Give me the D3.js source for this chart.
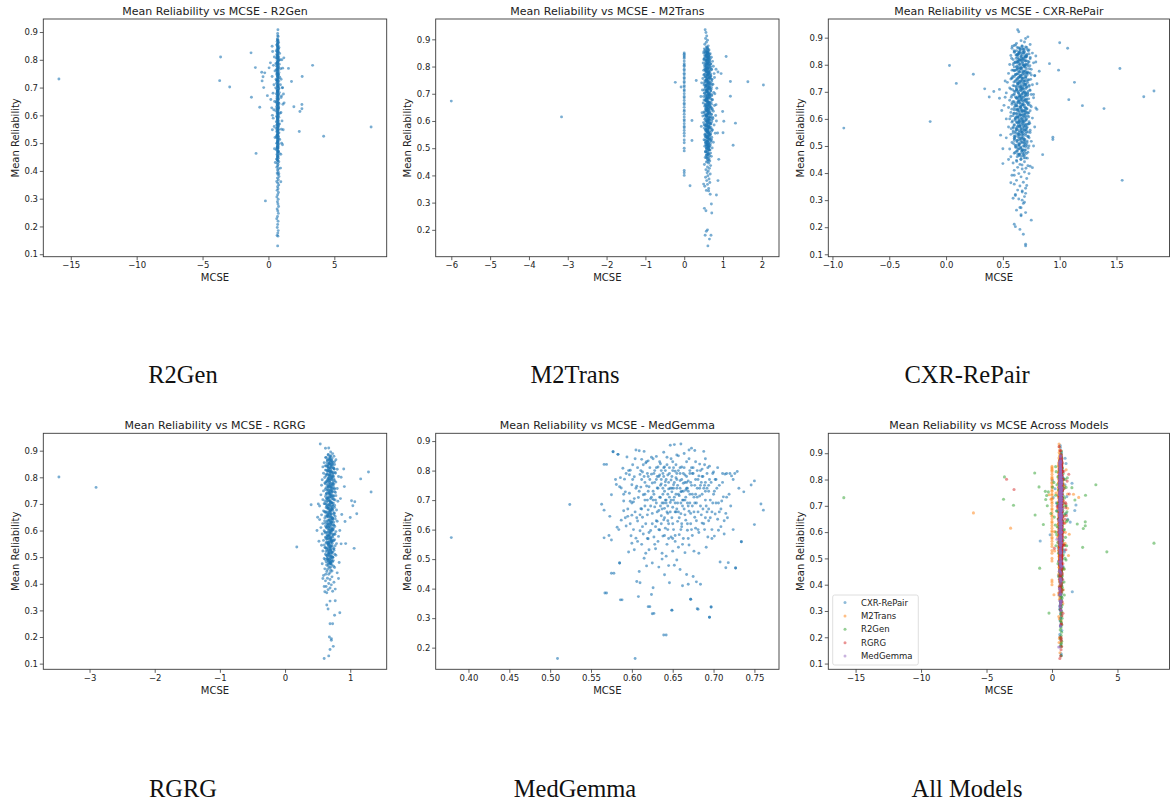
<!DOCTYPE html>
<html>
<head>
<meta charset="utf-8">
<script src="https://cdn.jsdelivr.net/npm/d3@7"></script>
<style>
  body { margin: 0; background: #fff; }
  svg { display: block; }
</style>
</head>
<body>
<svg id="fig" width="1170" height="802"></svg>
<script>
// ---------- data: [MCSE, mean reliability] per report ----------

const r2gen = [
  // main column
  [0.72,0.908],[0.7,0.895],[0.74,0.884],[0.68,0.876],[0.73,0.871],[0.66,0.866],[0.77,0.862],[0.71,0.858],[0.63,0.853],[0.75,0.851],
  [0.69,0.847],[0.8,0.844],[0.67,0.84],[0.72,0.836],[0.59,0.833],[0.76,0.83],[0.7,0.826],[0.85,0.823],[0.64,0.82],[0.73,0.817],
  [0.68,0.813],[0.78,0.81],[0.61,0.806],[0.71,0.803],[0.88,0.8],[0.66,0.797],[0.75,0.794],[0.69,0.79],[0.57,0.787],[0.82,0.784],
  [0.72,0.781],[0.64,0.777],[0.77,0.774],[0.7,0.771],[0.93,0.768],[0.6,0.764],[0.74,0.761],[0.67,0.757],[0.8,0.754],[0.71,0.75],
  [0.63,0.747],[0.76,0.744],[0.69,0.74],[0.86,0.737],[0.73,0.733],[0.58,0.73],[0.66,0.727],[0.78,0.723],[0.7,0.72],[0.62,0.716],
  [0.75,0.713],[0.91,0.71],[0.68,0.706],[0.72,0.703],[0.55,0.699],[0.79,0.696],[0.65,0.692],[0.74,0.689],[0.7,0.685],[0.83,0.682],
  [0.61,0.678],[0.76,0.675],[0.68,0.671],[0.72,0.667],[0.96,0.664],[0.64,0.66],[0.77,0.657],[0.7,0.653],[0.59,0.649],[0.74,0.646],
  [0.81,0.642],[0.67,0.638],[0.71,0.635],[0.62,0.631],[0.78,0.627],[0.69,0.623],[0.75,0.62],[0.56,0.616],[0.72,0.612],[0.88,0.608],
  [0.66,0.605],[0.73,0.601],[0.63,0.597],[0.79,0.593],[0.7,0.589],[0.68,0.585],[0.76,0.581],[0.6,0.577],[0.71,0.573],[0.84,0.569],
  [0.65,0.565],[0.74,0.561],[0.69,0.557],[0.58,0.553],[0.77,0.549],[0.72,0.545],[0.64,0.541],[0.8,0.537],[0.7,0.533],[0.67,0.529],
  [0.75,0.525],[0.61,0.521],[0.73,0.517],[0.86,0.513],[0.68,0.509],[0.71,0.505],[0.63,0.5],[0.78,0.496],[0.69,0.492],[0.74,0.488],
  [0.66,0.484],[0.72,0.48],[0.6,0.476],[0.76,0.471],[0.7,0.467],[0.82,0.463],[0.65,0.459],[0.73,0.455],[0.68,0.45],[0.75,0.446],
  [0.62,0.442],[0.71,0.437],[0.79,0.433],[0.67,0.428],[0.73,0.423],[0.7,0.418],[0.64,0.413],[0.77,0.408],[0.69,0.403],[0.74,0.397],
  [0.66,0.392],[0.72,0.387],[0.8,0.38],[0.68,0.374],[0.75,0.368],[0.63,0.362],[0.71,0.356],[0.78,0.349],[0.69,0.343],[0.73,0.336],
  [0.66,0.33],[0.76,0.322],[0.7,0.314],[0.64,0.306],[0.74,0.298],[0.68,0.289],[0.72,0.281],[0.77,0.272],[0.66,0.263],[0.71,0.256],
  [0.75,0.247],[0.69,0.236],[0.63,0.228],[0.73,0.219],[0.7,0.207],[0.67,0.196],[0.74,0.185],[0.71,0.176],[0.66,0.168],[0.72,0.165],
  [0.7,0.13],
  [0.69,0.859],[0.74,0.842],[0.66,0.829],[0.71,0.812],[0.77,0.798],[0.63,0.785],[0.73,0.776],[0.68,0.763],[0.75,0.748],[0.7,0.735],
  [0.65,0.724],[0.72,0.711],[0.79,0.697],[0.67,0.684],[0.74,0.671],[0.7,0.658],[0.62,0.645],[0.76,0.633],[0.69,0.619],[0.73,0.606],
  [0.66,0.594],[0.71,0.579],[0.78,0.566],[0.68,0.552],[0.72,0.539],[0.64,0.527],[0.75,0.513],[0.7,0.498],[0.67,0.486],[0.73,0.47],
  [0.69,0.452],[0.71,0.836],[0.68,0.818],[0.73,0.806],[0.7,0.791],[0.75,0.769],[0.66,0.752],[0.72,0.74],[0.69,0.728],[0.74,0.704],
  [0.71,0.69],[0.67,0.676],[0.73,0.662],[0.7,0.64],[0.76,0.626],[0.68,0.611],[0.72,0.596],[0.69,0.571],[0.74,0.558],[0.71,0.531],
  [0.66,0.519],[0.73,0.503],[0.7,0.481],[0.72,0.47],[0.68,0.44],
  [0.703,0.887],[0.682,0.872],[0.731,0.864],[0.664,0.855],[0.712,0.846],[0.746,0.839],[0.691,0.831],[0.723,0.822],[0.657,0.815],[0.704,0.807],
  [0.76,0.8],[0.679,0.792],[0.718,0.785],[0.645,0.778],[0.697,0.77],[0.738,0.763],[0.671,0.755],[0.713,0.748],[0.686,0.741],[0.752,0.733],
  [0.629,0.726],[0.702,0.719],[0.677,0.711],[0.729,0.704],[0.661,0.697],[0.708,0.689],[0.694,0.682],[0.741,0.675],[0.654,0.667],[0.719,0.66],
  [0.683,0.653],[0.765,0.645],[0.672,0.638],[0.706,0.631],[0.639,0.623],[0.724,0.616],[0.691,0.609],[0.751,0.601],[0.667,0.594],[0.715,0.587],
  [0.682,0.579],[0.736,0.572],[0.648,0.565],[0.701,0.557],[0.727,0.55],[0.673,0.543],[0.709,0.535],[0.658,0.528],[0.743,0.521],[0.689,0.514],
  [0.717,0.506],[0.664,0.499],[0.698,0.491],[0.731,0.483],[0.676,0.476],[0.709,0.468],[0.688,0.46],[0.722,0.452],[0.667,0.445],[0.703,0.437],
  [0.714,0.869],[0.696,0.849],[0.728,0.827],[0.685,0.806],[0.711,0.786],[0.673,0.766],[0.72,0.746],[0.693,0.726],[0.707,0.706],[0.681,0.686],
  [0.726,0.666],[0.699,0.646],[0.671,0.626],[0.715,0.606],[0.688,0.586],[0.703,0.566],[0.679,0.546],[0.711,0.526],[0.694,0.506],[0.683,0.486],
  // spread around the column
  [0.32,0.83],[0.45,0.81],[1.02,0.8],[0.38,0.78],[1.08,0.77],[0.5,0.76],[0.28,0.74],[0.96,0.73],[0.42,0.71],[1.05,0.7],
  [0.35,0.68],[0.99,0.67],[0.47,0.65],[1.1,0.64],[0.4,0.62],[0.95,0.61],[0.3,0.6],[1.03,0.58],[0.44,0.56],[0.98,0.55],
  [0.5,0.52],[1.0,0.5],[0.46,0.48],[0.94,0.46],[0.52,0.43],[0.92,0.41],
  [-0.48,0.724],[-0.41,0.739],[-0.28,0.753],[-0.51,0.755],[-0.36,0.7],[0.05,0.771],[-0.08,0.671],[0.18,0.657],[0.25,0.627],[0.36,0.59],
  [0.3,0.548],[1.17,0.807],[1.07,0.699],[1.14,0.677],[1.19,0.645],[1.12,0.548],[1.07,0.494],[0.94,0.361],[0.79,0.39],[0.15,0.789],
  [0.28,0.849],
  // far points
  [-15.9,0.731],[-3.63,0.81],[-3.7,0.725],[-2.94,0.702],[-1.32,0.825],[-0.99,0.772],[-1.29,0.665],[-0.66,0.629],[-0.94,0.463],[-0.23,0.292],
  [3.35,0.78],[2.56,0.74],[1.75,0.722],[1.52,0.769],[1.93,0.631],[2.54,0.639],[2.54,0.624],[2.39,0.614],[2.34,0.542],[4.19,0.525],
  [7.79,0.558]
];

const m2trans = [
  // reports with MCSE of zero
  [0,0.85],[0,0.845],[0,0.84],[0,0.835],[0,0.83],[0,0.82],[0,0.81],[0,0.805],[0,0.8],[0,0.79],[0,0.785],[0,0.775],[0,0.77],[0,0.76],
  [0,0.755],[0,0.745],[0,0.74],[0,0.73],[0,0.725],[0,0.715],[0,0.71],[0,0.7],[0,0.69],[0,0.685],[0,0.675],[0,0.665],[0,0.66],[0,0.65],
  [0,0.64],[0,0.635],[0,0.625],[0,0.615],[0,0.605],[0,0.6],[0,0.59],[0,0.58],[0,0.575],[0,0.565],[0,0.555],[0,0.545],[0,0.53],[0,0.52],
  [0,0.5],[0,0.49],[0,0.418],[0,0.41],[0,0.4],
  // main cluster
  [0.54,0.935],[0.56,0.925],[0.58,0.912],[0.55,0.903],[0.6,0.897],[0.57,0.889],[0.53,0.882],[0.62,0.876],[0.59,0.87],[0.52,0.865],
  [0.64,0.861],[0.56,0.857],[0.61,0.853],[0.5,0.85],[0.67,0.847],[0.58,0.844],[0.63,0.84],[0.54,0.837],[0.7,0.834],[0.6,0.831],
  [0.51,0.828],[0.65,0.825],[0.57,0.822],[0.73,0.819],[0.62,0.816],[0.49,0.813],[0.68,0.81],[0.55,0.807],[0.6,0.804],[0.75,0.801],
  [0.53,0.798],[0.64,0.795],[0.58,0.792],[0.7,0.789],[0.5,0.786],[0.66,0.783],[0.56,0.78],[0.62,0.777],[0.77,0.774],[0.52,0.771],
  [0.6,0.768],[0.69,0.765],[0.55,0.762],[0.64,0.759],[0.48,0.756],[0.72,0.753],[0.58,0.75],[0.63,0.747],[0.53,0.744],[0.67,0.741],
  [0.6,0.738],[0.74,0.735],[0.51,0.732],[0.57,0.729],[0.65,0.726],[0.7,0.723],[0.54,0.72],[0.61,0.717],[0.47,0.714],[0.68,0.711],
  [0.59,0.708],[0.76,0.705],[0.52,0.702],[0.63,0.699],[0.56,0.696],[0.71,0.693],[0.5,0.69],[0.66,0.687],[0.58,0.684],[0.62,0.681],
  [0.73,0.678],[0.54,0.675],[0.6,0.672],[0.69,0.669],[0.49,0.666],[0.64,0.663],[0.57,0.66],[0.78,0.657],[0.53,0.654],[0.67,0.651],
  [0.61,0.648],[0.72,0.645],[0.55,0.642],[0.59,0.639],[0.75,0.636],[0.51,0.633],[0.65,0.63],[0.62,0.627],[0.7,0.624],[0.56,0.621],
  [0.48,0.618],[0.68,0.615],[0.6,0.612],[0.74,0.609],[0.53,0.606],[0.64,0.603],[0.58,0.6],[0.71,0.597],[0.5,0.594],[0.66,0.591],
  [0.61,0.588],[0.77,0.585],[0.55,0.582],[0.63,0.579],[0.69,0.576],[0.52,0.573],[0.59,0.57],[0.73,0.567],[0.57,0.564],[0.65,0.561],
  [0.6,0.558],[0.8,0.555],[0.54,0.552],[0.67,0.549],[0.62,0.546],[0.56,0.543],[0.71,0.54],[0.58,0.537],[0.64,0.534],[0.51,0.531],
  [0.69,0.528],[0.6,0.525],[0.75,0.522],[0.55,0.519],[0.63,0.516],[0.58,0.513],[0.67,0.51],[0.53,0.507],[0.61,0.504],[0.72,0.501],
  [0.57,0.498],[0.65,0.494],[0.6,0.49],[0.55,0.486],[0.68,0.482],[0.62,0.478],[0.58,0.474],[0.7,0.47],[0.54,0.466],[0.64,0.462],
  [0.6,0.458],[0.66,0.453],[0.57,0.449],[0.63,0.445],[0.52,0.44],[0.68,0.436],[0.6,0.431],[0.65,0.426],[0.56,0.421],[0.62,0.416],
  [0.59,0.41],[0.67,0.405],[0.61,0.399],[0.55,0.393],[0.64,0.387],[0.58,0.381],[0.66,0.374],[0.6,0.367],[0.53,0.36],[0.63,0.352],
  [0.57,0.345],
  [0.59,0.852],[0.63,0.838],[0.57,0.826],[0.61,0.814],[0.66,0.803],[0.55,0.79],[0.6,0.779],[0.64,0.767],[0.58,0.755],[0.62,0.743],
  [0.56,0.731],[0.66,0.719],[0.6,0.707],[0.63,0.695],[0.57,0.683],[0.61,0.671],[0.65,0.659],[0.59,0.647],[0.62,0.635],[0.56,0.623],
  [0.64,0.611],[0.6,0.599],[0.58,0.587],[0.63,0.575],[0.61,0.563],[0.66,0.551],[0.59,0.539],[0.62,0.527],[0.6,0.515],[0.64,0.503],
  [0.62,0.848],[0.58,0.835],[0.65,0.821],[0.6,0.809],[0.57,0.796],[0.63,0.785],[0.61,0.772],[0.68,0.76],[0.59,0.749],[0.65,0.736],
  [0.62,0.725],[0.58,0.712],[0.64,0.701],[0.6,0.689],[0.55,0.677],[0.62,0.665],[0.66,0.653],[0.58,0.641],[0.61,0.629],[0.57,0.617],
  [0.63,0.605],[0.65,0.593],[0.59,0.581],[0.56,0.569],[0.62,0.557],[0.6,0.545],[0.65,0.533],[0.57,0.521],[0.61,0.509],[0.63,0.496],
  [0.571,0.872],[0.598,0.867],[0.548,0.862],[0.622,0.858],[0.583,0.854],[0.536,0.85],[0.607,0.846],[0.564,0.842],[0.641,0.838],[0.592,0.834],
  [0.523,0.83],[0.615,0.826],[0.576,0.822],[0.657,0.818],[0.547,0.814],[0.601,0.81],[0.632,0.806],[0.561,0.802],[0.689,0.798],[0.587,0.794],
  [0.529,0.79],[0.619,0.786],[0.572,0.782],[0.646,0.778],[0.553,0.774],[0.605,0.77],[0.674,0.766],[0.538,0.762],[0.592,0.758],[0.628,0.754],
  [0.567,0.75],[0.705,0.746],[0.581,0.742],[0.517,0.738],[0.612,0.734],[0.655,0.73],[0.545,0.726],[0.598,0.722],[0.637,0.718],[0.563,0.714],
  [0.684,0.71],[0.576,0.706],[0.528,0.702],[0.619,0.698],[0.591,0.694],[0.661,0.69],[0.551,0.686],[0.604,0.682],[0.716,0.678],[0.569,0.674],
  [0.633,0.67],[0.586,0.666],[0.54,0.662],[0.647,0.658],[0.598,0.654],[0.695,0.65],[0.558,0.646],[0.617,0.642],[0.574,0.638],[0.668,0.634],
  [0.521,0.63],[0.606,0.626],[0.639,0.622],[0.584,0.618],[0.731,0.614],[0.547,0.61],[0.611,0.606],[0.657,0.602],[0.569,0.598],[0.596,0.594],
  [0.685,0.59],[0.533,0.586],[0.625,0.582],[0.578,0.578],[0.643,0.574],[0.556,0.57],[0.609,0.566],[0.703,0.562],[0.588,0.558],[0.632,0.554],
  [0.565,0.55],[0.662,0.546],[0.541,0.542],[0.602,0.538],[0.626,0.534],[0.577,0.53],[0.689,0.526],[0.553,0.522],[0.615,0.518],[0.594,0.514],
  [0.645,0.51],[0.569,0.506],[0.608,0.502],[0.583,0.497],[0.634,0.492],[0.559,0.487],[0.616,0.482],[0.597,0.477],[0.652,0.472],[0.574,0.466],
  [0.593,0.861],[0.613,0.851],[0.576,0.841],[0.628,0.832],[0.602,0.823],[0.585,0.813],[0.641,0.804],[0.61,0.795],[0.571,0.786],[0.626,0.777],
  [0.596,0.768],[0.652,0.759],[0.583,0.75],[0.617,0.741],[0.569,0.732],[0.637,0.723],[0.605,0.714],[0.589,0.705],[0.659,0.696],[0.622,0.687],
  [0.578,0.678],[0.643,0.669],[0.6,0.66],[0.567,0.651],[0.631,0.642],[0.612,0.633],[0.585,0.624],[0.654,0.615],[0.597,0.606],[0.624,0.597],
  [0.574,0.588],[0.646,0.579],[0.607,0.57],[0.588,0.561],[0.636,0.552],[0.614,0.865],[0.587,0.848],[0.623,0.828],[0.566,0.81],[0.608,0.791],
  [0.639,0.772],[0.579,0.753],[0.62,0.734],[0.595,0.715],[0.647,0.696],[0.572,0.677],[0.611,0.658],[0.629,0.639],[0.58,0.62],[0.603,0.601],
  [0.642,0.582],[0.59,0.563],[0.618,0.544],[0.6,0.525],[0.627,0.506],
  [0.512,0.856],[0.556,0.853],[0.603,0.849],[0.648,0.845],[0.531,0.841],[0.579,0.837],[0.624,0.833],[0.669,0.829],[0.507,0.825],[0.553,0.821],
  [0.598,0.817],[0.643,0.813],[0.688,0.809],[0.526,0.805],[0.571,0.801],[0.617,0.797],[0.662,0.793],[0.708,0.789],[0.545,0.785],[0.59,0.781],
  [0.636,0.777],[0.681,0.773],[0.504,0.769],[0.564,0.765],[0.609,0.761],[0.655,0.757],[0.7,0.753],[0.538,0.749],[0.583,0.745],[0.629,0.741],
  [0.674,0.737],[0.719,0.733],[0.557,0.729],[0.602,0.725],[0.647,0.721],[0.693,0.717],[0.519,0.713],[0.576,0.709],[0.621,0.705],[0.666,0.701],
  [0.712,0.697],[0.549,0.693],[0.595,0.689],[0.64,0.685],[0.686,0.681],[0.51,0.677],[0.568,0.673],[0.613,0.669],[0.659,0.665],[0.704,0.661],
  [0.542,0.657],[0.587,0.653],[0.633,0.649],[0.678,0.645],[0.724,0.641],[0.561,0.637],[0.606,0.633],[0.651,0.629],[0.697,0.625],[0.529,0.621],
  [0.58,0.617],[0.625,0.613],[0.67,0.609],[0.716,0.605],[0.553,0.601],[0.599,0.597],[0.644,0.593],[0.689,0.589],[0.515,0.585],[0.572,0.581],
  [0.617,0.577],[0.663,0.573],[0.708,0.569],[0.546,0.565],[0.591,0.561],[0.636,0.557],[0.682,0.553],[0.527,0.549],[0.565,0.545],[0.61,0.541],
  [0.655,0.537],[0.7,0.533],[0.538,0.529],[0.584,0.525],[0.629,0.521],[0.674,0.517],[0.557,0.513],[0.603,0.509],[0.648,0.505],[0.576,0.501],
  [0.621,0.497],[0.666,0.493],[0.55,0.488],[0.595,0.484],[0.64,0.479],[0.569,0.474],[0.614,0.469],[0.588,0.463],[0.633,0.457],[0.607,0.451],
  [0.45,0.74],[0.43,0.69],[0.46,0.63],[0.44,0.58],[0.82,0.79],[0.84,0.72],[0.82,0.66],[0.83,0.6],[0.79,0.7],[0.81,0.62],[0.78,0.76],
  // lower tail
  [0.52,0.279],[0.56,0.27],[0.71,0.262],[0.6,0.2],[0.54,0.18],[0.69,0.18],[0.65,0.166],[0.61,0.141],[0.57,0.195],[0.67,0.331],
  [0.63,0.343],[0.5,0.368],[0.7,0.295],
  // scattered points
  [-6.0,0.673],[-3.16,0.615],[-0.23,0.742],[0.31,0.749],[-0.08,0.725],[0.2,0.602],[0.2,0.528],[0.15,0.362],[1.08,0.837],[1.19,0.745],
  [1.64,0.744],[2.04,0.732],[1.19,0.691],[1.32,0.592],[1.26,0.511],[0.99,0.635],[1.02,0.599],[1.0,0.557],[0.87,0.78],[0.95,0.774],
  [0.86,0.556],[0.89,0.459],[0.87,0.381],[0.83,0.328]
];

const cxrRepair = [
  [0.63,0.929],[0.64,0.922],[0.72,0.903],[0.7,0.897],[0.66,0.889],[0.69,0.884],[0.62,0.879],[0.74,0.875],[0.6,0.871],[0.67,0.868],
  [0.71,0.864],[0.58,0.861],[0.65,0.858],[0.73,0.855],[0.62,0.852],[0.69,0.849],[0.6,0.846],[0.76,0.843],[0.64,0.84],[0.67,0.837],
  [0.57,0.834],[0.71,0.831],[0.63,0.828],[0.68,0.825],[0.74,0.822],[0.59,0.819],[0.66,0.816],[0.7,0.813],[0.61,0.81],[0.77,0.807],
  [0.64,0.804],[0.56,0.801],[0.68,0.798],[0.72,0.795],[0.6,0.792],[0.66,0.789],[0.63,0.786],[0.75,0.783],[0.58,0.78],[0.69,0.777],
  [0.65,0.774],[0.71,0.771],[0.55,0.768],[0.62,0.765],[0.67,0.762],[0.78,0.759],[0.6,0.756],[0.64,0.753],[0.7,0.75],[0.57,0.747],
  [0.73,0.744],[0.66,0.741],[0.61,0.738],[0.54,0.735],[0.68,0.732],[0.63,0.729],[0.76,0.726],[0.59,0.723],[0.65,0.72],[0.71,0.717],
  [0.56,0.714],[0.67,0.711],[0.62,0.708],[0.74,0.705],[0.6,0.702],[0.69,0.699],[0.53,0.696],[0.64,0.693],[0.72,0.69],[0.58,0.687],
  [0.66,0.684],[0.61,0.681],[0.77,0.678],[0.63,0.675],[0.7,0.672],[0.56,0.669],[0.67,0.666],[0.6,0.663],[0.73,0.66],[0.65,0.657],
  [0.58,0.654],[0.69,0.651],[0.62,0.648],[0.75,0.645],[0.55,0.642],[0.66,0.639],[0.71,0.636],[0.6,0.633],[0.64,0.63],[0.68,0.627],
  [0.57,0.624],[0.72,0.621],[0.62,0.618],[0.66,0.615],[0.59,0.612],[0.7,0.609],[0.63,0.606],[0.76,0.603],[0.56,0.6],[0.67,0.597],
  [0.61,0.594],[0.69,0.591],[0.58,0.588],[0.65,0.585],[0.73,0.582],[0.6,0.579],[0.68,0.576],[0.63,0.573],[0.55,0.57],[0.71,0.567],
  [0.66,0.564],[0.62,0.561],[0.74,0.558],[0.59,0.555],[0.67,0.552],[0.64,0.549],[0.7,0.546],[0.57,0.543],[0.65,0.54],[0.61,0.537],
  [0.72,0.534],[0.68,0.531],[0.6,0.528],[0.66,0.525],[0.63,0.521],[0.75,0.517],[0.58,0.513],[0.69,0.509],[0.64,0.505],[0.61,0.501],
  [0.7,0.497],[0.66,0.493],[0.56,0.489],[0.67,0.485],[0.62,0.481],[0.72,0.477],[0.6,0.473],[0.68,0.469],[0.64,0.464],[0.57,0.46],
  [0.7,0.456],[0.66,0.451],[0.62,0.447],[0.69,0.442],[0.59,0.437],[0.65,0.432],[0.72,0.427],[0.63,0.421],[0.67,0.415],[0.6,0.41],
  [0.69,0.404],[0.64,0.398],[0.58,0.392],[0.66,0.386],[0.71,0.38],[0.62,0.373],[0.68,0.366],[0.6,0.359],[0.65,0.352],[0.7,0.344],
  [0.63,0.337],[0.67,0.33],[0.61,0.321],[0.69,0.313],[0.64,0.304],[0.68,0.288],[0.66,0.272],[0.62,0.263],[0.7,0.254],[0.66,0.242],
  [0.65,0.862],[0.68,0.851],[0.63,0.839],[0.7,0.828],[0.66,0.817],[0.62,0.806],[0.69,0.795],[0.65,0.784],[0.72,0.773],[0.61,0.762],
  [0.67,0.751],[0.64,0.74],[0.7,0.729],[0.66,0.718],[0.62,0.707],[0.68,0.696],[0.65,0.685],[0.71,0.674],[0.63,0.663],[0.67,0.652],
  [0.6,0.641],[0.69,0.63],[0.65,0.619],[0.62,0.608],[0.68,0.597],[0.64,0.586],[0.7,0.575],[0.66,0.564],[0.61,0.553],[0.67,0.542],
  [0.64,0.531],[0.69,0.519],[0.65,0.507],[0.62,0.495],[0.67,0.483],[0.63,0.47],[0.68,0.857],[0.64,0.845],[0.71,0.834],[0.67,0.822],
  [0.63,0.811],[0.7,0.8],[0.66,0.789],[0.6,0.778],[0.68,0.767],[0.65,0.756],[0.72,0.745],[0.63,0.734],[0.69,0.723],[0.66,0.712],
  [0.61,0.701],[0.7,0.69],[0.67,0.679],[0.64,0.668],[0.72,0.657],[0.66,0.646],[0.63,0.635],[0.7,0.624],[0.67,0.613],[0.61,0.602],
  [0.65,0.591],[0.71,0.58],[0.63,0.569],[0.69,0.558],[0.66,0.547],[0.6,0.536],[0.68,0.525],[0.66,0.513],[0.71,0.502],[0.64,0.489],
  [0.69,0.476],[0.66,0.461],[0.62,0.836],[0.73,0.81],[0.59,0.8],[0.74,0.77],[0.58,0.75],[0.73,0.72],[0.57,0.71],[0.75,0.69],
  [0.58,0.66],[0.74,0.63],[0.57,0.61],[0.73,0.59],[0.59,0.57],[0.74,0.55],[0.6,0.52],[0.73,0.5],
  [0.612,0.873],[0.668,0.869],[0.701,0.866],[0.637,0.862],[0.689,0.858],[0.655,0.855],[0.724,0.851],[0.603,0.848],[0.676,0.845],[0.642,0.842],
  [0.711,0.839],[0.628,0.836],[0.693,0.833],[0.659,0.83],[0.741,0.827],[0.617,0.824],[0.682,0.821],[0.648,0.818],[0.706,0.815],[0.633,0.812],
  [0.671,0.809],[0.596,0.806],[0.719,0.803],[0.654,0.8],[0.687,0.797],[0.622,0.794],[0.698,0.791],[0.641,0.788],[0.733,0.785],[0.665,0.782],
  [0.608,0.779],[0.679,0.776],[0.645,0.773],[0.714,0.77],[0.627,0.767],[0.691,0.764],[0.658,0.761],[0.589,0.758],[0.703,0.755],[0.636,0.752],
  [0.672,0.749],[0.745,0.746],[0.614,0.743],[0.684,0.74],[0.651,0.737],[0.718,0.734],[0.63,0.731],[0.696,0.728],[0.662,0.725],[0.6,0.722],
  [0.709,0.719],[0.643,0.716],[0.677,0.713],[0.621,0.71],[0.737,0.707],[0.656,0.704],[0.69,0.701],[0.634,0.698],[0.702,0.695],[0.668,0.692],
  [0.594,0.689],[0.716,0.686],[0.647,0.683],[0.681,0.68],[0.618,0.677],[0.727,0.674],[0.66,0.671],[0.694,0.668],[0.638,0.665],[0.706,0.662],
  [0.653,0.659],[0.605,0.656],[0.674,0.653],[0.74,0.65],[0.626,0.647],[0.688,0.644],[0.649,0.641],[0.712,0.638],[0.616,0.635],[0.667,0.632],
  [0.699,0.629],[0.64,0.626],[0.728,0.623],[0.598,0.62],[0.678,0.617],[0.655,0.614],[0.717,0.611],[0.631,0.608],[0.693,0.605],[0.662,0.602],
  [0.608,0.599],[0.705,0.596],[0.645,0.593],[0.684,0.59],[0.62,0.587],[0.736,0.584],[0.669,0.581],[0.637,0.578],[0.697,0.575],[0.652,0.572],
  [0.713,0.569],[0.592,0.566],[0.676,0.563],[0.628,0.56],[0.69,0.557],[0.659,0.554],[0.722,0.551],[0.611,0.548],[0.681,0.545],[0.643,0.542],
  [0.703,0.539],[0.633,0.536],[0.667,0.533],[0.731,0.53],[0.603,0.527],[0.688,0.524],[0.65,0.521],[0.714,0.518],[0.624,0.515],[0.674,0.512],
  [0.641,0.509],[0.699,0.506],[0.615,0.503],[0.683,0.5],[0.657,0.496],[0.722,0.492],[0.632,0.488],[0.691,0.484],[0.664,0.48],[0.607,0.476],
  [0.707,0.472],[0.645,0.468],[0.679,0.464],[0.626,0.46],[0.715,0.455],[0.658,0.45],
  [0.652,0.848],[0.683,0.843],[0.631,0.837],[0.704,0.832],[0.664,0.826],[0.645,0.821],[0.692,0.816],[0.624,0.811],[0.673,0.806],[0.708,0.801],
  [0.639,0.796],[0.687,0.791],[0.657,0.786],[0.619,0.781],[0.698,0.776],[0.67,0.771],[0.635,0.766],[0.712,0.761],[0.649,0.756],[0.681,0.751],
  [0.626,0.746],[0.695,0.741],[0.663,0.736],[0.641,0.731],[0.705,0.726],[0.675,0.721],[0.619,0.716],[0.687,0.711],[0.652,0.706],[0.72,0.701],
  [0.637,0.696],[0.67,0.691],[0.699,0.686],[0.628,0.681],[0.66,0.676],[0.689,0.671],[0.646,0.666],[0.714,0.661],[0.622,0.656],[0.678,0.651],
  [0.656,0.646],[0.702,0.641],[0.633,0.636],[0.685,0.631],[0.664,0.626],[0.619,0.621],[0.694,0.616],[0.648,0.611],[0.675,0.606],[0.71,0.601],
  [0.639,0.596],[0.667,0.591],[0.628,0.586],[0.691,0.581],[0.654,0.576],[0.681,0.571],[0.616,0.566],[0.702,0.561],[0.644,0.556],[0.671,0.551],
  [0.66,0.842],[0.694,0.828],[0.642,0.813],[0.678,0.799],[0.625,0.784],[0.707,0.769],[0.656,0.754],[0.689,0.739],[0.632,0.724],[0.669,0.709],
  [0.7,0.694],[0.646,0.679],[0.683,0.664],[0.615,0.649],[0.661,0.634],[0.696,0.619],[0.637,0.604],[0.674,0.589],[0.65,0.574],[0.706,0.559],
  [0.629,0.544],[0.665,0.529],[0.693,0.514],[0.64,0.499],[0.676,0.486],[0.654,0.471],[0.686,0.456],[0.622,0.443],[0.669,0.43],[0.703,0.418],
  [0.583,0.868],[0.627,0.864],[0.671,0.86],[0.715,0.856],[0.599,0.852],[0.643,0.848],[0.687,0.844],[0.731,0.84],[0.615,0.836],[0.659,0.832],
  [0.703,0.828],[0.577,0.824],[0.634,0.82],[0.678,0.816],[0.722,0.812],[0.606,0.808],[0.65,0.804],[0.694,0.8],[0.738,0.796],[0.62,0.792],
  [0.664,0.788],[0.708,0.784],[0.592,0.78],[0.639,0.776],[0.683,0.772],[0.727,0.768],[0.611,0.764],[0.655,0.76],[0.699,0.756],[0.58,0.752],
  [0.625,0.748],[0.669,0.744],[0.713,0.74],[0.597,0.736],[0.644,0.732],[0.688,0.728],[0.732,0.724],[0.616,0.72],[0.66,0.716],[0.704,0.712],
  [0.586,0.708],[0.63,0.704],[0.674,0.7],[0.718,0.696],[0.602,0.692],[0.649,0.688],[0.693,0.684],[0.574,0.68],[0.621,0.676],[0.665,0.672],
  [0.709,0.668],[0.591,0.664],[0.635,0.66],[0.679,0.656],[0.723,0.652],[0.607,0.648],[0.654,0.644],[0.698,0.64],[0.579,0.636],[0.626,0.632],
  [0.67,0.628],[0.714,0.624],[0.596,0.62],[0.64,0.616],[0.684,0.612],[0.728,0.608],[0.612,0.604],[0.659,0.6],[0.703,0.596],[0.585,0.592],
  [0.631,0.588],[0.675,0.584],[0.719,0.58],[0.601,0.576],[0.645,0.572],[0.689,0.568],[0.573,0.564],[0.617,0.56],[0.664,0.556],[0.708,0.552],
  [0.59,0.548],[0.636,0.544],[0.68,0.54],[0.724,0.536],[0.606,0.532],[0.65,0.528],[0.694,0.524],[0.622,0.52],[0.669,0.516],[0.713,0.512],
  [0.595,0.508],[0.641,0.504],[0.685,0.5],[0.611,0.495],[0.655,0.49],[0.699,0.485],[0.627,0.48],[0.674,0.475],[0.643,0.47],[0.69,0.465],
  [0.52,0.74],[0.51,0.65],[0.53,0.6],[0.5,0.49],[0.53,0.53],[0.55,0.45],[0.79,0.81],[0.8,0.73],[0.79,0.64],[0.78,0.57],
  [0.77,0.5],[0.76,0.42],[0.78,0.76],[0.52,0.68],
  // lower tail
  [0.74,0.425],[0.71,0.354],[0.7,0.325],[0.67,0.3],[0.69,0.292],[0.65,0.273],[0.75,0.226],[0.6,0.211],[0.61,0.202],[0.65,0.192],
  [0.68,0.174],[0.7,0.131],[0.7,0.137],[0.66,0.246],[0.59,0.307],[0.61,0.317],[0.67,0.334],[0.57,0.364],[0.6,0.392],[0.73,0.398],
  // scattered points
  [-0.9,0.566],[-0.14,0.59],[0.03,0.797],[0.09,0.731],[0.24,0.765],[0.34,0.711],[0.38,0.681],[0.42,0.701],[0.47,0.709],[0.47,0.676],
  [0.49,0.631],[0.48,0.54],[0.5,0.435],[0.91,0.804],[1.0,0.881],[1.07,0.861],[0.99,0.78],[1.13,0.735],[1.08,0.671],[1.2,0.649],
  [1.39,0.638],[1.53,0.786],[1.74,0.682],[1.83,0.703],[0.94,0.532],[0.94,0.524],[0.85,0.468],[1.55,0.373],[0.82,0.776],[0.79,0.832],
  [0.75,0.762],[0.8,0.635],[0.77,0.69]
];

const rgrg = [
  [0.54,0.925],[0.62,0.909],[0.67,0.91],[0.7,0.895],[0.73,0.889],[0.66,0.884],[0.75,0.879],[0.63,0.875],[0.69,0.871],[0.78,0.866],
  [0.65,0.862],[0.72,0.858],[0.6,0.855],[0.68,0.852],[0.76,0.848],[0.64,0.845],[0.71,0.842],[0.58,0.839],[0.74,0.836],[0.67,0.833],
  [0.8,0.83],[0.62,0.827],[0.7,0.824],[0.65,0.821],[0.77,0.818],[0.59,0.815],[0.73,0.812],[0.68,0.809],[0.63,0.806],[0.82,0.803],
  [0.71,0.8],[0.66,0.797],[0.75,0.794],[0.57,0.791],[0.69,0.788],[0.64,0.785],[0.78,0.782],[0.61,0.779],[0.72,0.776],[0.67,0.773],
  [0.56,0.77],[0.74,0.767],[0.7,0.764],[0.63,0.761],[0.8,0.758],[0.66,0.755],[0.69,0.752],[0.59,0.749],[0.76,0.746],[0.72,0.743],
  [0.64,0.74],[0.68,0.737],[0.55,0.734],[0.78,0.731],[0.62,0.728],[0.71,0.725],[0.66,0.722],[0.74,0.719],[0.58,0.716],[0.69,0.713],
  [0.81,0.71],[0.64,0.707],[0.72,0.704],[0.6,0.701],[0.67,0.698],[0.76,0.695],[0.53,0.692],[0.7,0.689],[0.63,0.686],[0.73,0.683],
  [0.66,0.68],[0.79,0.677],[0.59,0.674],[0.68,0.671],[0.62,0.668],[0.75,0.665],[0.71,0.662],[0.56,0.659],[0.65,0.656],[0.77,0.653],
  [0.69,0.65],[0.61,0.647],[0.73,0.644],[0.53,0.641],[0.67,0.638],[0.8,0.635],[0.64,0.632],[0.72,0.629],[0.58,0.626],[0.7,0.623],
  [0.75,0.62],[0.62,0.617],[0.68,0.614],[0.55,0.611],[0.74,0.608],[0.66,0.605],[0.71,0.602],[0.6,0.599],[0.78,0.596],[0.64,0.593],
  [0.69,0.59],[0.57,0.587],[0.73,0.584],[0.67,0.581],[0.82,0.578],[0.62,0.575],[0.7,0.572],[0.65,0.569],[0.76,0.566],[0.59,0.563],
  [0.68,0.56],[0.72,0.557],[0.63,0.554],[0.79,0.551],[0.66,0.548],[0.56,0.545],[0.71,0.542],[0.69,0.539],[0.61,0.536],[0.75,0.533],
  [0.64,0.53],[0.7,0.527],[0.58,0.523],[0.73,0.519],[0.67,0.515],[0.62,0.511],[0.78,0.507],[0.65,0.503],[0.71,0.499],[0.6,0.495],
  [0.68,0.491],[0.74,0.487],[0.63,0.483],[0.69,0.479],[0.57,0.475],[0.72,0.471],[0.66,0.466],[0.76,0.461],[0.61,0.456],[0.7,0.451],
  [0.64,0.446],[0.8,0.441],[0.67,0.436],[0.59,0.431],[0.72,0.426],[0.65,0.421],[0.69,0.416],[0.62,0.411],[0.75,0.406],[0.67,0.401],
  [0.71,0.396],[0.63,0.39],[0.69,0.384],[0.66,0.378],[0.73,0.372],[0.64,0.366],
  [0.69,0.868],[0.72,0.853],[0.66,0.841],[0.7,0.829],[0.74,0.817],[0.68,0.805],[0.71,0.793],[0.65,0.781],[0.7,0.769],[0.73,0.757],
  [0.67,0.745],[0.71,0.733],[0.64,0.721],[0.69,0.709],[0.73,0.697],[0.66,0.685],[0.7,0.673],[0.68,0.661],[0.72,0.649],[0.65,0.637],
  [0.7,0.625],[0.67,0.613],[0.73,0.601],[0.69,0.589],[0.64,0.577],[0.71,0.565],[0.67,0.553],[0.7,0.541],[0.66,0.529],[0.72,0.517],
  [0.68,0.505],[0.65,0.493],[0.7,0.481],[0.71,0.862],[0.67,0.847],[0.74,0.835],[0.69,0.823],[0.65,0.811],[0.72,0.799],[0.68,0.787],
  [0.75,0.775],[0.66,0.763],[0.71,0.751],[0.69,0.739],[0.74,0.727],[0.67,0.715],[0.7,0.703],[0.64,0.691],[0.72,0.679],[0.69,0.667],
  [0.66,0.655],[0.73,0.643],[0.7,0.631],[0.65,0.619],[0.72,0.607],[0.68,0.595],[0.74,0.583],[0.66,0.571],[0.71,0.559],[0.68,0.547],
  [0.63,0.535],[0.7,0.523],[0.67,0.511],[0.73,0.499],[0.69,0.487],[0.66,0.474],[0.7,0.462],
  [0.664,0.886],[0.702,0.881],[0.686,0.876],[0.721,0.871],[0.648,0.866],[0.695,0.861],[0.737,0.856],[0.671,0.851],[0.708,0.846],[0.639,0.841],
  [0.687,0.836],[0.753,0.831],[0.66,0.826],[0.716,0.821],[0.692,0.816],[0.627,0.811],[0.733,0.806],[0.676,0.801],[0.705,0.796],[0.651,0.791],
  [0.742,0.786],[0.683,0.781],[0.617,0.776],[0.723,0.771],[0.664,0.766],[0.697,0.761],[0.761,0.756],[0.642,0.751],[0.713,0.746],[0.679,0.741],
  [0.631,0.736],[0.728,0.731],[0.692,0.726],[0.655,0.721],[0.748,0.716],[0.672,0.711],[0.707,0.706],[0.612,0.701],[0.686,0.696],[0.735,0.691],
  [0.649,0.686],[0.718,0.681],[0.694,0.676],[0.626,0.671],[0.756,0.666],[0.667,0.661],[0.703,0.656],[0.641,0.651],[0.729,0.646],[0.681,0.641],
  [0.607,0.636],[0.712,0.631],[0.658,0.626],[0.744,0.621],[0.689,0.616],[0.633,0.611],[0.722,0.606],[0.673,0.601],[0.699,0.596],[0.618,0.591],
  [0.766,0.586],[0.654,0.581],[0.711,0.576],[0.684,0.571],[0.639,0.566],[0.738,0.561],[0.668,0.556],[0.697,0.551],[0.603,0.546],[0.725,0.541],
  [0.659,0.536],[0.688,0.531],[0.751,0.526],[0.628,0.521],[0.706,0.516],[0.674,0.511],[0.645,0.506],[0.731,0.501],[0.693,0.496],[0.615,0.491],
  [0.716,0.486],[0.662,0.481],[0.699,0.476],[0.637,0.471],[0.745,0.466],[0.68,0.46],[0.652,0.454],[0.721,0.448],[0.691,0.442],[0.624,0.436],
  [0.694,0.878],[0.678,0.863],[0.711,0.848],[0.667,0.833],[0.699,0.818],[0.726,0.803],[0.659,0.788],[0.689,0.773],[0.717,0.758],[0.673,0.743],
  [0.702,0.728],[0.646,0.713],[0.684,0.698],[0.715,0.683],[0.661,0.668],[0.692,0.653],[0.727,0.638],[0.669,0.623],[0.703,0.608],[0.653,0.593],
  [0.688,0.578],[0.719,0.563],[0.664,0.548],[0.698,0.533],[0.676,0.518],[0.71,0.503],[0.657,0.488],[0.685,0.473],[0.681,0.855],[0.706,0.839],
  [0.657,0.824],[0.692,0.809],[0.674,0.794],[0.731,0.779],[0.661,0.764],[0.698,0.749],[0.684,0.734],[0.639,0.719],[0.721,0.704],[0.671,0.689],
  [0.696,0.674],[0.651,0.659],[0.709,0.644],[0.682,0.629],[0.644,0.614],[0.714,0.599],[0.678,0.584],[0.701,0.569],[0.656,0.554],[0.693,0.539],
  [0.672,0.524],[0.709,0.509],[0.663,0.494],[0.695,0.479],
  [0.622,0.874],[0.668,0.869],[0.714,0.864],[0.76,0.859],[0.641,0.855],[0.687,0.851],[0.733,0.847],[0.615,0.843],[0.66,0.839],[0.706,0.835],
  [0.752,0.831],[0.634,0.827],[0.679,0.823],[0.725,0.819],[0.771,0.815],[0.653,0.811],[0.698,0.807],[0.744,0.803],[0.608,0.799],[0.672,0.795],
  [0.717,0.791],[0.763,0.787],[0.627,0.783],[0.691,0.779],[0.736,0.775],[0.646,0.771],[0.684,0.767],[0.71,0.763],[0.755,0.759],[0.619,0.755],
  [0.665,0.751],[0.729,0.747],[0.774,0.743],[0.638,0.739],[0.703,0.735],[0.748,0.731],[0.657,0.727],[0.676,0.723],[0.722,0.719],[0.767,0.715],
  [0.612,0.711],[0.695,0.707],[0.741,0.703],[0.631,0.699],[0.65,0.695],[0.714,0.691],[0.76,0.687],[0.669,0.683],[0.688,0.679],[0.733,0.675],
  [0.605,0.671],[0.643,0.667],[0.707,0.663],[0.752,0.659],[0.624,0.655],[0.662,0.651],[0.726,0.647],[0.771,0.643],[0.681,0.639],[0.7,0.635],
  [0.745,0.631],[0.617,0.627],[0.655,0.623],[0.719,0.619],[0.764,0.615],[0.636,0.611],[0.674,0.607],[0.738,0.603],[0.693,0.599],[0.61,0.595],
  [0.712,0.591],[0.757,0.587],[0.648,0.583],[0.667,0.579],[0.731,0.575],[0.629,0.571],[0.686,0.567],[0.75,0.563],[0.705,0.559],[0.641,0.555],
  [0.724,0.551],[0.66,0.547],[0.769,0.543],[0.679,0.539],[0.622,0.535],[0.743,0.531],[0.698,0.527],[0.653,0.523],[0.717,0.519],[0.672,0.515],
  [0.762,0.511],[0.634,0.507],[0.691,0.503],[0.736,0.499],[0.646,0.495],[0.71,0.491],[0.665,0.487],[0.729,0.483],[0.684,0.479],[0.703,0.475],
  [0.5,0.65],[0.49,0.6],[0.51,0.7],[0.52,0.56],[0.86,0.8],[0.85,0.72],[0.87,0.66],[0.84,0.6],[0.86,0.55],[0.83,0.48],
  [0.82,0.42],[0.6,0.39],[0.58,0.42],[0.77,0.38],[0.61,0.37],
  // lower tail
  [0.69,0.335],[0.77,0.336],[0.64,0.32],[0.66,0.305],[0.76,0.282],[0.84,0.291],[0.69,0.25],[0.73,0.25],[0.68,0.2],[0.71,0.188],
  [0.67,0.129],[0.6,0.119],[0.69,0.153],[0.74,0.165],[0.71,0.194],
  // scattered points
  [-3.47,0.801],[-2.9,0.762],[0.18,0.538],[0.4,0.697],[1.28,0.82],[1.16,0.794],[1.32,0.745],[1.02,0.712],[1.07,0.708],[1.04,0.693],
  [1.1,0.663],[1.0,0.649],[1.06,0.533],[0.92,0.634],[0.91,0.765],[0.9,0.831],[0.93,0.551]
];

const medgemma = [
  [0.563,0.686],[0.566,0.666],[0.566,0.572],[0.569,0.821],[0.569,0.385],[0.572,0.58],[0.573,0.645],[0.575,0.565],[0.575,0.718],[0.577,0.864],
  [0.578,0.452],[0.58,0.77],[0.581,0.753],[0.582,0.608],[0.583,0.855],[0.584,0.6],[0.585,0.745],[0.585,0.487],[0.586,0.776],[0.587,0.632],
  [0.588,0.362],[0.589,0.808],[0.59,0.697],[0.59,0.664],[0.591,0.771],[0.592,0.728],[0.593,0.612],[0.594,0.846],[0.595,0.645],[0.596,0.524],
  [0.597,0.786],[0.597,0.723],[0.598,0.801],[0.598,0.696],[0.599,0.579],[0.6,0.649],[0.6,0.752],[0.6,0.554],
  [0.601,0.82],[0.602,0.694],[0.602,0.6],[0.603,0.532],[0.603,0.779],[0.604,0.66],[0.605,0.87],[0.605,0.571],[0.606,0.424],[0.606,0.747],
  [0.607,0.81],[0.607,0.629],[0.608,0.373],[0.608,0.709],[0.609,0.458],[0.609,0.867],[0.61,0.787],[0.61,0.596],[0.61,0.42],[0.611,0.671],
  [0.611,0.744],[0.612,0.55],[0.612,0.838],[0.613,0.642],[0.613,0.795],[0.614,0.718],[0.614,0.585],[0.615,0.865],[0.615,0.503],[0.616,0.76],
  [0.616,0.68],[0.617,0.826],[0.617,0.62],[0.618,0.748],[0.618,0.477],[0.619,0.7],[0.619,0.79],[0.62,0.569],[0.62,0.833],[0.62,0.667],
  [0.621,0.745],[0.621,0.532],[0.622,0.81],[0.622,0.339],[0.623,0.705],[0.623,0.597],[0.624,0.788],[0.624,0.38],[0.625,0.655],[0.625,0.487],
  [0.625,0.758],[0.626,0.403],[0.626,0.84],[0.627,0.316],[0.627,0.575],[0.627,0.72],[0.628,0.677],[0.628,0.8],[0.629,0.61],[0.629,0.535],
  [0.63,0.77],[0.63,0.69],[0.63,0.848],[0.631,0.628],[0.631,0.741],[0.632,0.56],[0.632,0.812],[0.633,0.473],[0.633,0.665],[0.634,0.785],
  [0.634,0.599],[0.635,0.709],[0.635,0.823],[0.636,0.647],[0.636,0.755],[0.637,0.52],[0.637,0.69],[0.638,0.79],[0.638,0.578],[0.639,0.862],
  [0.639,0.633],[0.64,0.73],[0.64,0.447],[0.64,0.812],[0.64,0.672],
  [0.641,0.605],[0.641,0.762],[0.642,0.243],[0.642,0.51],[0.642,0.7],[0.643,0.845],[0.643,0.55],[0.644,0.785],[0.644,0.655],[0.645,0.478],
  [0.645,0.738],[0.645,0.62],[0.646,0.81],[0.646,0.42],[0.647,0.692],[0.647,0.886],[0.648,0.575],[0.648,0.768],[0.649,0.327],[0.649,0.64],
  [0.649,0.728],[0.65,0.83],[0.65,0.527],[0.65,0.676],[0.651,0.752],[0.651,0.6],[0.652,0.888],[0.652,0.479],[0.652,0.71],[0.653,0.798],
  [0.653,0.56],[0.654,0.66],[0.654,0.776],[0.655,0.497],[0.655,0.74],[0.655,0.853],[0.656,0.628],[0.656,0.69],[0.657,0.8],[0.657,0.54],
  [0.658,0.715],[0.658,0.583],[0.659,0.766],[0.659,0.465],[0.66,0.654],[0.66,0.89],[0.66,0.728],
  [0.661,0.61],[0.661,0.812],[0.662,0.41],[0.662,0.7],[0.663,0.757],[0.663,0.57],[0.664,0.858],[0.664,0.67],[0.665,0.522],[0.665,0.785],
  [0.666,0.632],[0.666,0.734],[0.667,0.448],[0.667,0.83],[0.668,0.69],[0.668,0.598],[0.669,0.765],[0.669,0.415],[0.67,0.662],[0.67,0.84],
  [0.67,0.548],[0.671,0.72],[0.671,0.8],[0.672,0.364],[0.672,0.62],[0.673,0.876],[0.673,0.75],[0.674,0.58],[0.674,0.68],[0.675,0.441],
  [0.675,0.81],[0.676,0.71],[0.676,0.527],[0.677,0.868],[0.677,0.642],[0.678,0.77],[0.678,0.605],[0.679,0.69],[0.679,0.423],[0.68,0.8],
  [0.68,0.74],
  [0.681,0.33],[0.681,0.66],[0.682,0.782],[0.682,0.59],[0.683,0.714],[0.683,0.822],[0.684,0.415],[0.684,0.68],[0.685,0.76],[0.686,0.622],
  [0.686,0.805],[0.687,0.67],[0.688,0.865],[0.688,0.74],[0.689,0.6],[0.689,0.82],[0.69,0.7],[0.69,0.76],[0.691,0.54],[0.692,0.79],
  [0.692,0.66],[0.693,0.575],[0.694,0.73],[0.695,0.303],[0.695,0.815],[0.696,0.64],[0.697,0.338],[0.697,0.76],[0.698,0.6],[0.699,0.69],
  [0.7,0.795],[0.7,0.72],
  [0.701,0.578],[0.702,0.653],[0.703,0.77],[0.704,0.74],[0.705,0.635],[0.706,0.598],[0.707,0.66],[0.708,0.49],[0.709,0.61],[0.71,0.697],
  [0.711,0.79],[0.712,0.711],[0.713,0.585],[0.714,0.788],[0.715,0.655],[0.716,0.71],[0.717,0.64],[0.718,0.488],[0.72,0.79],[0.722,0.782],
  [0.724,0.77],[0.727,0.47],[0.729,0.797],[0.734,0.559],[0.737,0.728],
  [0.631,0.78],[0.634,0.71],[0.636,0.8],[0.639,0.69],[0.642,0.77],[0.644,0.72],[0.646,0.79],[0.648,0.7],[0.651,0.74],[0.653,0.69],
  [0.655,0.77],[0.657,0.66],[0.659,0.81],[0.661,0.73],[0.663,0.79],[0.665,0.7],[0.667,0.76],[0.669,0.68],[0.638,0.74],[0.644,0.68],
  [0.65,0.8],[0.654,0.72],[0.662,0.68],[0.668,0.74],[0.674,0.79],[0.628,0.76],[0.626,0.7],[0.62,0.78],[0.616,0.72],[0.612,0.77],
  [0.66,0.6],[0.65,0.57],[0.64,0.58],[0.636,0.62],[0.644,0.63],[0.672,0.655],[0.678,0.72],[0.684,0.75],[0.69,0.73],[0.694,0.67],
  [0.587,0.741],[0.593,0.79],[0.595,0.67],[0.598,0.62],[0.601,0.77],[0.603,0.705],[0.604,0.84],[0.606,0.64],[0.607,0.56],[0.609,0.73],
  [0.611,0.8],[0.612,0.67],[0.613,0.61],[0.615,0.78],[0.616,0.7],[0.617,0.52],[0.618,0.83],[0.619,0.65],[0.62,0.73],[0.621,0.59],
  [0.622,0.77],[0.623,0.68],[0.624,0.845],[0.625,0.62],[0.626,0.73],[0.627,0.79],[0.628,0.55],[0.629,0.7],[0.63,0.81],[0.631,0.66],
  [0.632,0.74],[0.633,0.6],[0.634,0.83],[0.635,0.68],[0.636,0.77],[0.637,0.5],[0.638,0.72],[0.639,0.81],[0.64,0.64],[0.641,0.75],
  [0.642,0.69],[0.643,0.82],[0.644,0.6],[0.645,0.76],[0.646,0.71],[0.647,0.66],[0.648,0.84],[0.649,0.78],[0.65,0.62],[0.651,0.7],
  [0.652,0.76],[0.653,0.58],[0.654,0.82],[0.655,0.67],[0.656,0.75],[0.657,0.72],[0.658,0.64],[0.659,0.79],[0.66,0.69],[0.661,0.77],
  [0.662,0.55],[0.663,0.73],[0.664,0.81],[0.665,0.65],[0.666,0.71],[0.667,0.78],[0.668,0.62],[0.669,0.73],[0.67,0.87],[0.671,0.69],
  [0.672,0.76],[0.673,0.6],[0.674,0.72],[0.675,0.79],[0.676,0.66],[0.677,0.75],[0.678,0.83],[0.679,0.63],[0.68,0.71],[0.681,0.77],
  [0.682,0.52],[0.683,0.74],[0.684,0.8],[0.685,0.65],[0.686,0.72],[0.687,0.78],[0.688,0.62],[0.689,0.75],[0.69,0.84],[0.691,0.68],
  [0.692,0.74],[0.693,0.81],[0.694,0.63],[0.695,0.77],[0.696,0.7],[0.698,0.66],[0.699,0.79],[0.701,0.73],[0.703,0.69],[0.705,0.81],
  [0.707,0.75],[0.709,0.67],[0.711,0.76],[0.713,0.63],[0.716,0.79],[0.719,0.72],[0.721,0.68],[0.724,0.6],[0.726,0.79],[0.731,0.74],
  [0.59,0.72],[0.592,0.64],[0.596,0.8],[0.6,0.69],[0.605,0.74],[0.61,0.65],[0.614,0.82],[0.619,0.57],[0.624,0.71],[0.63,0.63],
  [0.633,0.78],[0.637,0.67],[0.641,0.8],[0.645,0.57],[0.649,0.74],[0.653,0.66],[0.657,0.85],[0.661,0.62],[0.665,0.76],[0.669,0.57],
  [0.673,0.81],[0.677,0.69],[0.681,0.6],[0.686,0.78],[0.69,0.64],[0.694,0.75],[0.698,0.57],[0.702,0.77],[0.706,0.69],[0.641,0.7],
  [0.647,0.74],[0.655,0.79],[0.663,0.7],[0.667,0.74],[0.635,0.75],[0.651,0.81],[0.659,0.74],[0.643,0.66],[0.671,0.79],[0.639,0.78],
  // scattered points
  [0.379,0.573],[0.509,0.163],[0.524,0.685],[0.604,0.163],[0.639,0.243],[0.761,0.666],[0.758,0.687],[0.75,0.765],[0.75,0.617],[0.746,0.751],
  [0.734,0.559],[0.727,0.47],[0.715,0.471],[0.697,0.338],[0.695,0.303],[0.68,0.332],[0.672,0.364],[0.649,0.327],[0.625,0.315],[0.62,0.339],
  [0.586,0.362],[0.567,0.385],[0.575,0.452],[0.585,0.487],[0.566,0.821],[0.577,0.864],[0.583,0.855]
];

// model order and colours used in the combined plot and its legend
const modelNames = ["CXR-RePair", "M2Trans", "R2Gen", "RGRG", "MedGemma"];
const modelColors = ["#1f77b4", "#ff7f0e", "#2ca02c", "#d62728", "#9467bd"];

// tick values
const reliabilityTicks = [0.1, 0.2, 0.3, 0.4, 0.5, 0.6, 0.7, 0.8, 0.9];
const r2genTicks = [-15, -10, -5, 0, 5];
const m2transTicks = [-6, -5, -4, -3, -2, -1, 0, 1, 2];
const cxrTicks = [-1.0, -0.5, 0.0, 0.5, 1.0, 1.5];
const rgrgTicks = [-3, -2, -1, 0, 1];
const medgemmaTicks = [0.40, 0.45, 0.50, 0.55, 0.60, 0.65, 0.70, 0.75];
const allModelsTicks = [-15, -10, -5, 0, 5];

// ---------- layout ----------
const colLeft = [43.3, 435.7, 828.3];
const colWidth = [343.4, 343.3, 341.2];
const rowTop = [19, 433.3];
const rowHeight = [237.7, 236];
const captionX = [183, 575, 967];
const captionY = [383, 797];

const FONT = "'DejaVu Sans', sans-serif";
const INK = "#222";
const SPINE = "#3a3a3a";

const byName = { "CXR-RePair": cxrRepair, "M2Trans": m2trans, "R2Gen": r2gen, "RGRG": rgrg, "MedGemma": medgemma };

const panels = [
  { title: "Mean Reliability vs MCSE - R2Gen", caption: "R2Gen", row: 0, col: 0,
    sets: [{ data: r2gen, color: modelColors[0] }], xTicks: r2genTicks, fmt: d3.format("d") },
  { title: "Mean Reliability vs MCSE - M2Trans", caption: "M2Trans", row: 0, col: 1,
    sets: [{ data: m2trans, color: modelColors[0] }], xTicks: m2transTicks, fmt: d3.format("d") },
  { title: "Mean Reliability vs MCSE - CXR-RePair", caption: "CXR-RePair", row: 0, col: 2,
    sets: [{ data: cxrRepair, color: modelColors[0] }], xTicks: cxrTicks, fmt: d3.format(".1f") },
  { title: "Mean Reliability vs MCSE - RGRG", caption: "RGRG", row: 1, col: 0,
    sets: [{ data: rgrg, color: modelColors[0] }], xTicks: rgrgTicks, fmt: d3.format("d") },
  { title: "Mean Reliability vs MCSE - MedGemma", caption: "MedGemma", row: 1, col: 1,
    sets: [{ data: medgemma, color: modelColors[0] }], xTicks: medgemmaTicks, fmt: d3.format(".2f") },
  { title: "Mean Reliability vs MCSE Across Models", caption: "All Models", row: 1, col: 2,
    sets: modelNames.map((n, i) => ({ name: n, data: byName[n], color: modelColors[i] })),
    xTicks: allModelsTicks, fmt: d3.format("d"), legend: true }
];

const svg = d3.select("#fig");

function padded(ext) {
  const p = (ext[1] - ext[0]) * 0.05;
  return [ext[0] - p, ext[1] + p];
}

function drawPanel(p) {
  const L = colLeft[p.col], T = rowTop[p.row], W = colWidth[p.col], H = rowHeight[p.row];
  const pts = p.sets.flatMap(s => s.data);
  const x = d3.scaleLinear().domain(padded(d3.extent(pts, d => d[0]))).range([L, L + W]);
  const y = d3.scaleLinear().domain(padded(d3.extent(pts, d => d[1]))).range([T + H, T]);
  const combined = p.sets.length > 1;

  const g = svg.append("g");

  // points
  p.sets.forEach(s => {
    g.append("g").selectAll("circle").data(s.data).join("circle")
      .attr("cx", d => x(d[0])).attr("cy", d => y(d[1]))
      .attr("r", combined ? 1.55 : 1.45)
      .attr("fill", s.color)
      .attr("fill-opacity", combined ? 0.5 : 0.6);
  });

  // frame
  g.append("rect").attr("x", L).attr("y", T).attr("width", W).attr("height", H)
    .attr("fill", "none").attr("stroke", SPINE).attr("stroke-width", 0.9);

  const xd = x.domain(), yd = y.domain();
  const xAxis = d3.axisBottom(x).tickValues(p.xTicks.filter(v => v >= xd[0] && v <= xd[1]))
    .tickFormat(p.fmt).tickSize(3.5).tickPadding(1.8);
  const yAxis = d3.axisLeft(y).tickValues(reliabilityTicks.filter(v => v >= yd[0] && v <= yd[1]))
    .tickFormat(d3.format(".1f")).tickSize(3.5).tickPadding(1.8);

  const gx = g.append("g").attr("transform", `translate(0,${T + H})`).call(xAxis);
  const gy = g.append("g").attr("transform", `translate(${L},0)`).call(yAxis);
  [gx, gy].forEach(a => {
    a.select(".domain").remove();
    a.selectAll(".tick line").attr("stroke", SPINE).attr("stroke-width", 0.8);
    a.selectAll(".tick text").attr("fill", INK).style("font-family", FONT).style("font-size", "8.5px");
  });

  // titles and axis labels
  g.append("text").attr("x", L + W / 2).attr("y", T - 4.3).attr("text-anchor", "middle")
    .style("font-family", FONT).style("font-size", "11px").attr("fill", INK).text(p.title);
  g.append("text").attr("x", L + W / 2).attr("y", T + H + 24.3).attr("text-anchor", "middle")
    .style("font-family", FONT).style("font-size", "10px").attr("fill", INK).text("MCSE");
  g.append("text").attr("transform", `translate(${L - 24.8},${T + H / 2}) rotate(-90)`)
    .attr("text-anchor", "middle").style("font-family", FONT).style("font-size", "10px")
    .attr("fill", INK).text("Mean Reliability");

  // legend
  if (p.legend) {
    const lx = L + 4.4, ly = T + H - 4.3 - 70, step = 13.35;
    const lg = g.append("g");
    lg.append("rect").attr("x", lx).attr("y", ly).attr("width", 85.6).attr("height", 70)
      .attr("rx", 2).attr("fill", "#fff").attr("fill-opacity", 0.8)
      .attr("stroke", "#d6d6d6").attr("stroke-width", 0.8);
    p.sets.forEach((s, i) => {
      const cy = ly + 7.6 + i * step;
      lg.append("circle").attr("cx", lx + 12.3).attr("cy", cy).attr("r", 1.5)
        .attr("fill", s.color).attr("fill-opacity", 0.5);
      lg.append("text").attr("x", lx + 28.3).attr("y", cy).attr("dy", "0.35em")
        .style("font-family", FONT).style("font-size", "8.5px").attr("fill", INK).text(s.name);
    });
  }

  // caption under each plot
  svg.append("text").attr("x", captionX[p.col]).attr("y", captionY[p.row]).attr("text-anchor", "middle")
    .style("font-family", "'Liberation Serif', 'Times New Roman', serif").style("font-size", "24.5px")
    .attr("fill", "#111").text(p.caption);
}

panels.forEach(drawPanel);
</script>
</body>
</html>
